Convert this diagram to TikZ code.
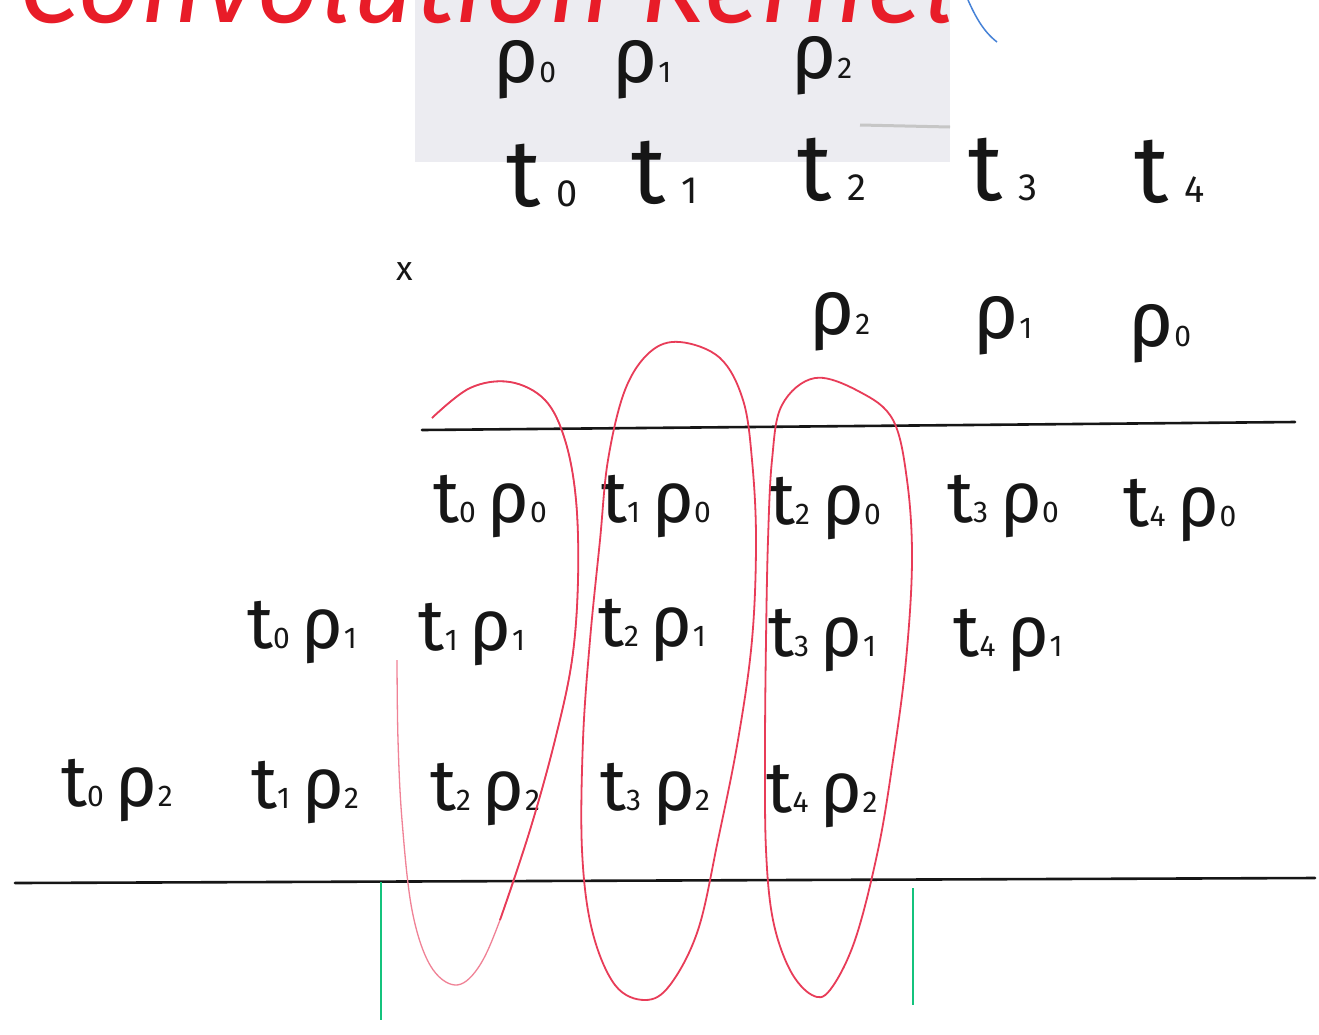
\documentclass[tikz,border=0pt]{standalone}
\usepackage{fontspec}
\setmainfont{Fira Sans}
\definecolor{pen}{RGB}{22,22,22}
\definecolor{titlered}{RGB}{232,28,40}
\definecolor{loopred}{RGB}{232,60,88}
\definecolor{looppink}{RGB}{240,130,150}
\definecolor{greenpen}{RGB}{20,195,125}
\definecolor{paper}{RGB}{236,236,241}
\definecolor{bluepen}{RGB}{70,130,215}
\newcommand\sbx[2]{{\fontsize{#1}{#1}\selectfont #2}}
\newcommand\tprod[2]{t\sbx{30}{#1}\,ρ\sbx{30}{#2}}
\begin{document}
\begin{tikzpicture}[x=1pt,y=-1pt,
  lbl/.style={inner sep=0pt, anchor=base, text=pen},
  prod/.style={lbl, font=\fontsize{72}{72}\selectfont},
  tlbl/.style={lbl, font=\fontsize{95}{95}\selectfont},
  rlbl/.style={lbl, font=\fontsize{78}{78}\selectfont},
  rule/.style={draw=pen, line width=2.6pt, line cap=round},
  marker/.style={draw=greenpen, line width=2.2pt},
  loopline/.style={draw=loopred, line width=1.8pt},
  faintloop/.style={draw=looppink, line width=1.3pt}]
\useasboundingbox (0,0) rectangle (1319,1034);
\fill[white] (0,0) rectangle (1319,1034);
% grey paper strip behind the kernel and first values
\fill[paper] (415,0) rectangle (950,162);
\draw[gray!45, line width=3pt] (860,125) -- (950,127);
% clipped title
\begin{scope}
\clip (0,0) rectangle (1319,1034);
\node[anchor=base west, inner sep=0pt, text=titlered,
      font=\itshape\fontsize{110}{110}\selectfont] (title) at (18,22) {Convolution Kernel};
\draw[bluepen, line width=1.5pt] (968,0) .. controls (976,18) and (984,32) .. (997,42);
\end{scope}
% kernel
\node[rlbl] (p0) at (525,82) {ρ\sbx{30}{0}};
\node[rlbl] (p1) at (642,82) {ρ\sbx{30}{1}};
\node[rlbl] (p2) at (822,78) {ρ\sbx{30}{2}};
% signal
\node[tlbl] (t0) at (542,206) {t\,\sbx{38}{0}};
\node[tlbl] (t1) at (665,203) {t\,\sbx{38}{1}};
\node[tlbl] (t2) at (832,200) {t\,\sbx{38}{2}};
\node[tlbl] (t3) at (1003,200) {t\,\sbx{38}{3}};
\node[tlbl] (t4) at (1170,202) {t\,\sbx{38}{4}};
% multiply sign
\node[lbl, font=\fontsize{34}{34}\selectfont] (times) at (405,280) {x};
% reversed kernel
\node[rlbl] (q2) at (840,334) {ρ\sbx{30}{2}};
\node[rlbl] (q1) at (1003,338) {ρ\sbx{30}{1}};
\node[rlbl] (q0) at (1160,346) {ρ\sbx{30}{0}};
% upper rule
\coordinate (ua) at (422,430);
\coordinate (ub) at (1295,422);
\draw[rule] (ua) -- (ub);
% products row 1
\node[prod] (a00) at (490,522) {\tprod{0}{0}};
\node[prod] (a10) at (656,522) {\tprod{1}{0}};
\node[prod] (a20) at (825,524) {\tprod{2}{0}};
\node[prod] (a30) at (1003,522) {\tprod{3}{0}};
\node[prod] (a40) at (1180,526) {\tprod{4}{0}};
% products row 2
\node[prod] (a01) at (302,648) {\tprod{0}{1}};
\node[prod] (a11) at (472,650) {\tprod{1}{1}};
\node[prod] (a21) at (652,646) {\tprod{2}{1}};
\node[prod] (a31) at (822,656) {\tprod{3}{1}};
\node[prod] (a41) at (1008,656) {\tprod{4}{1}};
% products row 3
\node[prod] (a02) at (117,806) {\tprod{0}{2}};
\node[prod] (a12) at (305,808) {\tprod{1}{2}};
\node[prod] (a22) at (485,810) {\tprod{2}{2}};
\node[prod] (a32) at (655,810) {\tprod{3}{2}};
\node[prod] (a42) at (822,812) {\tprod{4}{2}};
% lower rule
\coordinate (la) at (15,883);
\coordinate (lb) at (1315,878);
\draw[rule] (la) -- (lb);
% green markers
\coordinate (g1a) at (381,882);
\coordinate (g1b) at (381,1020);
\coordinate (g2a) at (913,888);
\coordinate (g2b) at (913,1005);
\draw[marker] (g1a) -- (g1b);
\draw[marker] (g2a) -- (g2b);
% red loops grouping the sums
\draw[faintloop] plot[smooth, tension=0.6] coordinates {(397,660) (398,740) (402,820) (412,910) (430,965) (455,985) (478,968) (500,920) (530,830) (555,740) (572,660) (578,580) (576,500) (565,440) (545,400) (510,382) (470,388) (432,418)};
\draw[loopline] plot[smooth, tension=0.6] coordinates {(500,920) (530,830) (555,740) (572,660) (578,580) (576,500) (565,440) (545,400) (510,382) (470,388) (432,418)};
\draw[loopline] plot[smooth cycle, tension=0.6] coordinates {(680,342) (720,358) (743,400) (752,460) (756,540) (752,640) (738,740) (718,840) (698,930) (670,985) (645,1000) (615,985) (592,930) (582,850) (583,740) (590,640) (600,540) (608,460) (625,390) (650,352)};
\draw[loopline] plot[smooth cycle, tension=0.6] coordinates {(815,378) (860,392) (893,420) (907,480) (912,560) (906,660) (893,760) (878,850) (855,940) (830,990) (812,995) (790,970) (773,920) (766,850) (765,750) (766,640) (768,540) (772,460) (782,405)};
\end{tikzpicture}
\end{document}
